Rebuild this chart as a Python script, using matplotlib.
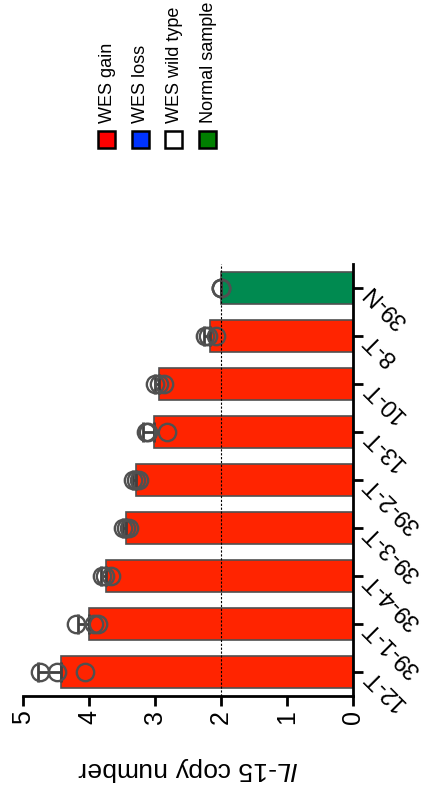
import numpy as np
import matplotlib
matplotlib.use("Agg")
import matplotlib.pyplot as plt
from matplotlib.patches import Rectangle

plt.rcParams['font.family'] = ['Liberation Sans', 'DejaVu Sans']
plt.rcParams['mathtext.fontset'] = 'custom'
plt.rcParams['mathtext.it'] = 'Liberation Sans:italic'
plt.rcParams['mathtext.rm'] = 'Liberation Sans'

# -----------------------------
# DATA (bottom to top)
# -----------------------------
samples = ['12-T', '39-1-T', '39-4-T', '39-3-T', '39-2-T', '13-T', '10-T', '8-T', '39-N']
rep1 = [4.74, 4.19, 3.81, 3.48, 3.33, 3.13, 3.00, 2.24, 2.00]
rep2 = [4.49, 3.93, 3.76, 3.44, 3.29, 3.10, 2.94, 2.20, 2.00]
rep3 = [4.06, 3.86, 3.66, 3.40, 3.25, 2.82, 2.86, 2.08, 2.00]
groups = ['gain', 'gain', 'gain', 'gain', 'gain', 'gain', 'gain', 'gain', 'normal']

legend_labels = ['WES gain', 'WES loss', 'WES wild type', 'Normal sample']
legend_colors = ['#FF0000', '#0033FF', '#FFFFFF', '#008000']
bar_colors = {'gain': '#FF2400', 'normal': '#008A50'}

value_ticks = [0, 1, 2, 3, 4, 5]

# -----------------------------
# PLOT
# -----------------------------
reps = np.array([rep1, rep2, rep3])
means = reps.mean(axis=0)
sds = reps.std(axis=0, ddof=1)
ypos = np.arange(len(samples))

W, H = 436, 799
fig = plt.figure(figsize=(W / 100, H / 100), dpi=100)
ax = fig.add_axes([23 / W, 1 - 696 / H, (353 - 23) / W, (696 - 264) / H])

ax.barh(ypos, means, height=0.65, color=[bar_colors[g] for g in groups],
        edgecolor='#505050', linewidth=1.2, zorder=2)
ax.errorbar(means, ypos, xerr=[np.zeros(len(samples)), sds], fmt='none',
            ecolor='#404040', elinewidth=2, capsize=7, capthick=2, zorder=3)
for r in reps:
    ax.plot(r, ypos, 'o', ms=12.5, mfc='none', mec='#505050', mew=1.7,
            linestyle='none', zorder=4)
ax.axvline(2, color='black', linestyle=(0, (2, 1.5)), linewidth=0.8, zorder=5)

ax.set_xlim(5, 0)
ax.set_ylim(-0.5, len(samples) - 0.5)
ax.set_xticks(value_ticks)
ax.set_xticklabels([str(v) for v in value_ticks], rotation=90, fontsize=18)
ax.yaxis.tick_right()
ax.set_yticks(ypos)
ax.set_yticklabels(samples, fontsize=17, rotation=135, rotation_mode='anchor',
                   ha='right', va='center')

for s in ['left', 'top']:
    ax.spines[s].set_visible(False)
for s in ['right', 'bottom']:
    ax.spines[s].set_linewidth(2)
ax.tick_params(axis='both', width=2, length=7, direction='out')
ax.tick_params(axis='y', pad=4)
ax.tick_params(axis='x', pad=3)

fig.text(188 / W, 1 - 769 / H, r'$\mathit{IL}$-$\mathit{15}$ copy number',
         rotation=180, ha='center', va='center', fontsize=19)

# legend drawn by hand, rotated
for i, (lab, col) in enumerate(zip(legend_labels, legend_colors)):
    x0 = 98 + i * 33.7
    fig.patches.append(Rectangle((x0 / W, 1 - 148 / H), 17 / W, 17 / H,
                                 transform=fig.transFigure, facecolor=col,
                                 edgecolor='black', linewidth=1.8))
    fig.text((x0 + 9) / W, 1 - 123 / H, lab, rotation=90, ha='center',
             va='bottom', fontsize=13)

fig.savefig('out.png', dpi=100)
